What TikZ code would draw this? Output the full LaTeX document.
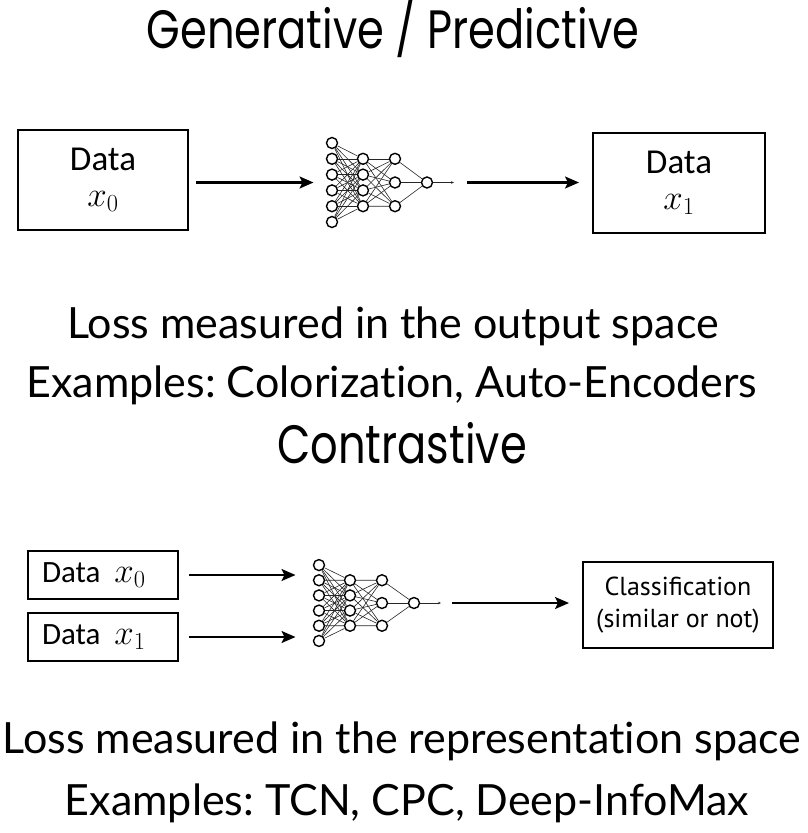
\RequirePackage{fix-cm}
\documentclass[tikz,border=0pt]{standalone}
\usepackage{fontspec}
\setmainfont{Lato}[Ligatures=NoCommon]
\newfontfamily\headfont{Poppins}[FakeStretch=0.8]
\newfontfamily\boxfont{Carlito}
\newfontfamily\clsfont{PT Sans}
\usetikzlibrary{arrows.meta}
\frenchspacing
\newcommand\xv[1]{{\fontsize{35}{35}\selectfont$x_{#1}$}}
\begin{document}
\begin{tikzpicture}[>={Stealth[length=14pt,width=12pt,inset=3pt]},x=1pt,y=-1pt,
	box/.style={draw,line width=2pt,inner sep=0pt,align=center},
	pair/.style={box,minimum width=150pt,minimum height=48pt,inner xsep=14pt,text width=122pt,align=left,font=\boxfont\fontsize{31}{33}\selectfont},
	neuron/.style={circle,draw,line width=1.4pt,fill=white,minimum size=11pt,inner sep=0pt},
	link/.style={line width=0.6pt,black!85},
	flow/.style={line width=2.2pt,->},
	head/.style={anchor=base,font=\headfont\fontsize{54}{56}\selectfont},
	body/.style={anchor=base,font=\fontsize{43}{45}\selectfont}]
	\useasboundingbox (0,0) rectangle (807,833);
	% small network: #1 name, #2 x, #3 y, #4 yscale
	\def\nnet#1#2#3#4{
		\begin{scope}[shift={(#2,#3)},yscale=#4]
			\foreach \i in {1,...,6} \node[neuron] (#1a\i) at (0,{-39.5+(\i-1)*15.8}) {};
			\foreach \i in {1,...,4} \node[neuron] (#1b\i) at (31,{-23.7+(\i-1)*15.8}) {};
			\foreach \i in {1,...,3} \node[neuron] (#1c\i) at (63,{-23.7+(\i-1)*23.7}) {};
			\node[neuron] (#1d) at (95,0) {};
			\coordinate (#1in) at (-5.5,0);
			\foreach \i in {1,...,6} \foreach \j in {1,...,4} \draw[link] (#1a\i) -- (#1b\j);
			\foreach \i in {1,...,4} \foreach \j in {1,...,3} \draw[link] (#1b\i) -- (#1c\j);
			\foreach \i in {1,...,3} \draw[link] (#1c\i) -- (#1d);
			\draw[link,-{Stealth[length=3pt,width=2.5pt]}] (#1d) -- (122,0) coordinate (#1out);
		\end{scope}}
	% generative / predictive
	\node[head] (t1) at (393,48) {Generative / Predictive};
	\node[box,minimum width=170pt,minimum height=100pt,font=\boxfont\fontsize{35}{36}\selectfont] (d0) at (103,180) {Data\\$x_0$};
	\node[box,minimum width=172pt,minimum height=100pt,font=\boxfont\fontsize{35}{36}\selectfont] (d1) at (679,183) {Data\\$x_1$};
	\nnet{p}{332}{182.5}{1}
	\draw[flow,shorten <=7pt,shorten >=13pt] (d0.east |- pin) -- (pin);
	\draw[flow,shorten <=13pt,shorten >=13pt] (pout) -- (d1.west |- pout);
	\node[body] (l1) at (393,338) {Loss measured in the output space};
	\node[body] (l2) at (392,397) {Examples: Colorization, Auto-Encoders};
	% contrastive
	\node[head] (t2) at (402,463) {Contrastive};
	\node[pair] (e0) at (103,575) {Data\hspace{14pt}\xv0};
	\node[pair] (e1) at (103,637) {Data\hspace{14pt}\xv1};
	\node[box,minimum width=190pt,minimum height=86pt,font=\clsfont\fontsize{26}{32}\selectfont] (cls) at (678,605) {Classification\\(similar or not)};
	\nnet{q}{319}{603}{0.96}
	\draw[flow,shorten <=10pt,shorten >=18pt] (e0.east) -- (e0.east -| qin);
	\draw[flow,shorten <=10pt,shorten >=18pt] (e1.east) -- (e1.east -| qin);
	\draw[flow,shorten <=11pt,shorten >=13pt] (qout) -- (cls.west |- qout);
	\node[body] (l3) at (402,753) {Loss measured in the representation space};
	\node[body] (l4) at (407,815) {Examples: TCN, CPC, Deep-InfoMax};
\end{tikzpicture}
\end{document}
